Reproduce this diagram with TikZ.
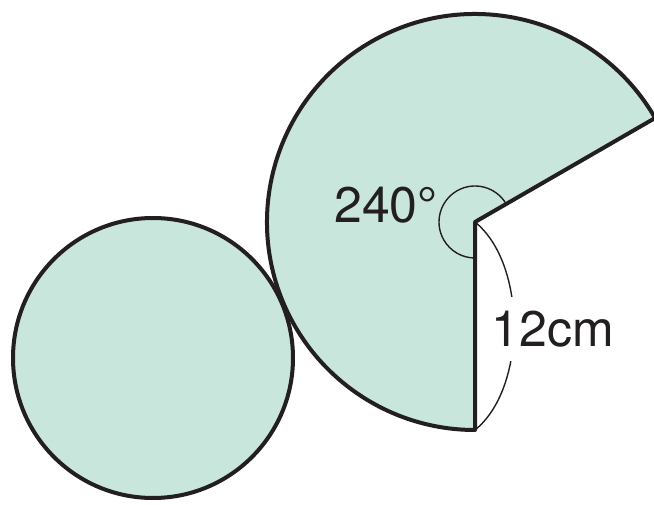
\documentclass[tikz,border=0pt]{standalone}
\usepackage{fontspec}
\setmainfont{TeX Gyre Heros}
\definecolor{mint}{RGB}{200,230,220}
\definecolor{ink}{RGB}{35,31,32}
\begin{document}
\begin{tikzpicture}[x=1pt,y=1pt,
  figshape/.style={fill=mint,draw=ink,line width=4pt,line join=round},
  thinline/.style={draw=ink,line width=1.4pt},
  lbl/.style={text=ink,font=\fontsize{50}{50}\selectfont,inner sep=0pt}]
\useasboundingbox (0,0) rectangle (654,504);
\coordinate (C) at (475,282);
\coordinate (S) at (153,146);
\coordinate (B) at (475,74);
\path[figshape] (S) circle[radius=140];
\path[figshape] (C) -- ++(30:208) arc[start angle=30,end angle=270,radius=208] -- cycle;
\draw[thinline] (C) ++(30:36) arc[start angle=30,end angle=270,radius=36];
\draw[thinline] (C) .. controls (527,240) and (527,116) .. (B);
\node[lbl] (ang) at (386,299) {240°};
\node[lbl,fill=white,inner ysep=14pt,inner xsep=2pt] (len) at (553,175) {12cm};
\end{tikzpicture}
\end{document}
